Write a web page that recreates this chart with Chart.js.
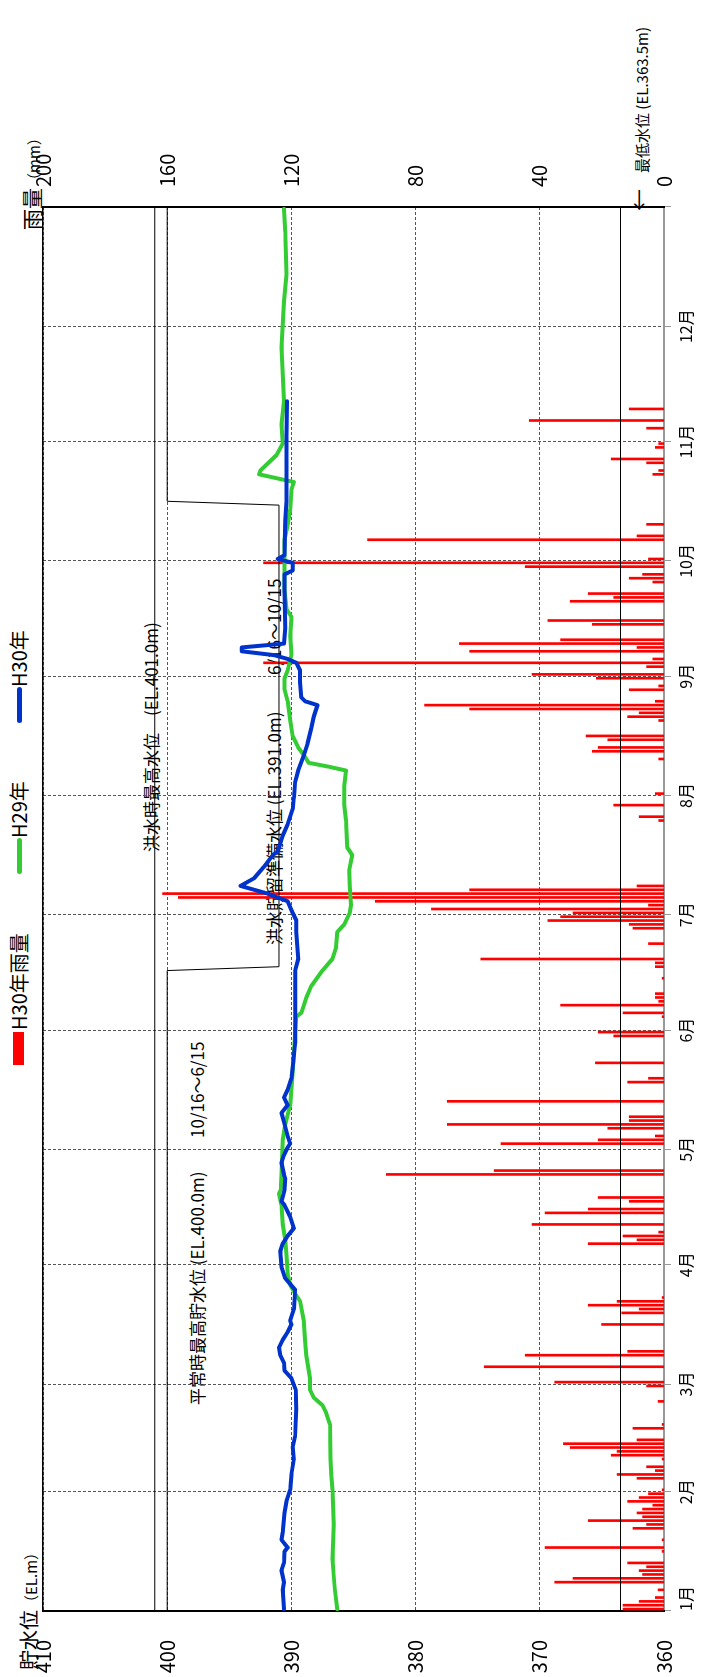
<!DOCTYPE html>
<html lang="ja">
<head>
<meta charset="utf-8">
<title>貯水位と雨量</title>
<script src="https://cdn.jsdelivr.net/npm/chart.js@4.4.1/dist/chart.umd.min.js"></script>
<style>
  html, body { margin: 0; padding: 0; width: 705px; height: 1677px; overflow: hidden; background: #fff; }
  /* the chart is laid out landscape and turned a quarter turn to the left */
  #page {
    position: absolute; left: 0; top: 0; width: 1677px; height: 705px;
    transform-origin: 0 0; transform: translate(0, 1677px) rotate(-90deg);
    font-family: "Noto Sans CJK JP", sans-serif; color: #000;
  }
  #page canvas { position: absolute; left: 0; top: 0; }
  .txt { position: absolute; white-space: nowrap; line-height: 1; }
  .mark { position: absolute; }
</style>
</head>
<body>
<div id="page">
  <div id="texts"></div>
  <canvas id="levelChart" width="1677" height="705"></canvas>
</div>
<script>
const monthLabels = ['1月', '2月', '3月', '4月', '5月', '6月', '7月', '8月', '9月', '10月', '11月', '12月'];
const monthStarts = [0, 31, 59, 90, 120, 151, 181, 212, 243, 273, 304, 334];
const yearDays = 365;

// H30 water level (EL.m)
const h30Dates = ['1/1','1/6','1/8','1/11','1/13','1/16','1/17','1/19','1/21','1/26',
  '1/29','2/1','2/5','2/9','2/12','2/15','2/22','2/27','3/2','3/4',
  '3/6','3/8','3/10','3/12','3/14','3/16','3/17','3/20','3/25','3/28',
  '3/31','4/4','4/6','4/8','4/10','4/13','4/16','4/17','4/20','4/23',
  '4/24','4/27','4/29','5/1','5/2','5/4','5/7','5/10','5/12','5/14',
  '5/16','5/19','5/22','5/28','6/7','6/16','6/19','6/26','6/29','7/1',
  '7/4','7/6','7/8','7/10','7/13','7/16','7/17','7/21','7/24','7/28',
  '7/31','8/4','8/7','8/11','8/14','8/18','8/21','8/24','8/25','8/26',
  '8/30','9/2','9/4','9/5','9/6','9/7','9/8','9/9','9/13','9/23',
  '9/27','9/28','9/30','10/1','10/2','10/11','10/16','11/2','11/11'];
const h30Levels = [390.6,390.7,390.6,390.8,390.6,390.55,390.3,390.8,390.7,390.55,
  390.4,390.1,390.0,389.8,389.9,389.7,389.6,389.65,390.0,390.55,
  390.6,390.9,391.0,390.7,390.3,390.0,390.1,389.8,389.7,390.5,
  390.8,390.9,390.7,390.3,389.8,390.1,390.55,390.8,390.55,390.5,
  390.6,390.8,390.6,390.3,390.1,390.3,390.55,390.8,390.3,390.6,
  390.3,390.0,389.9,389.7,389.7,389.7,389.45,389.6,389.6,389.9,
  390.3,391.9,394.1,393.0,392.2,391.5,391.1,390.7,390.3,389.9,
  389.8,389.7,389.45,389.0,388.7,388.4,388.2,387.9,388.9,389.2,
  389.3,389.3,389.6,390.3,391.4,394.0,394.0,390.6,390.5,390.55,
  390.55,389.9,389.9,391.1,390.55,390.5,390.4,390.4,390.35];

// H29 water level (EL.m)
const h29Dates = ['1/1','1/6','1/10','1/14','1/23','2/1','2/5','2/9','2/18','2/21',
  '2/23','2/25','2/27','3/2','3/8','3/12','3/17','3/22','3/24','3/26',
  '3/29','4/3','4/7','4/11','4/16','4/19','4/20','4/24','5/3','5/7',
  '5/12','5/21','5/31','6/4','6/5','6/9','6/12','6/16','6/19','6/22',
  '6/26','6/28','7/1','7/3','7/8','7/12','7/16','7/18','7/25','7/29',
  '8/3','8/7','8/8','8/9','8/11','8/13','8/16','8/20','8/25','8/28',
  '8/31','9/2','9/6','9/11','9/16','9/18','9/23','10/6','10/10','10/14',
  '10/19','10/21','10/23','10/24','10/28','10/31','11/5','11/11','11/25','12/7',
  '12/14','12/25','12/31'];
const h29Levels = [386.3,386.5,386.6,386.7,386.6,386.7,386.8,386.85,386.9,387.2,
  387.5,388.2,388.5,388.5,388.8,388.9,389.0,389.3,389.7,390.05,
  390.3,390.4,390.5,390.7,390.8,391.0,390.85,390.8,390.7,390.5,
  390.1,389.9,389.7,389.6,389.2,388.8,388.4,387.5,386.7,386.4,
  386.3,385.75,385.3,385.2,385.3,385.35,385.1,385.5,385.6,385.75,
  385.75,385.6,387.0,388.6,389.0,389.45,389.9,390.1,390.3,390.55,
  390.55,390.3,390.0,390.1,390.0,390.4,390.55,390.55,390.3,390.1,
  390.0,389.8,392.6,392.5,391.2,390.7,390.8,390.6,390.8,390.6,
  390.4,390.5,390.6];

// H30 daily rainfall (mm)
const rainDates = [
  '1/1','1/2','1/3','1/4','1/6','1/8','1/9','1/10','1/11','1/12','1/13','1/16','1/17','1/19','1/22','1/23','1/24','1/25','1/26','1/27','1/28','1/29','1/30','1/31',
  '2/1','2/4','2/5','2/6','2/7','2/9','2/10','2/11','2/12','2/13','2/14','2/17','2/18','2/24','2/28',
  '3/1','3/5','3/8','3/9','3/16','3/19','3/20','3/21','3/22','3/23',
  '4/6','4/7','4/8','4/9','4/11','4/14','4/15','4/17','4/18','4/24','4/25',
  '5/2','5/3','5/4','5/6','5/7','5/8','5/9','5/13','5/18','5/19','5/23','5/30','5/31',
  '6/4','6/5','6/7','6/8','6/9','6/10','6/14','6/17','6/18','6/19','6/23','6/27','6/28','6/29','6/30',
  '7/1','7/2','7/3','7/4','7/5','7/6','7/7','7/8','7/25','7/26','7/29',
  '8/1','8/10','8/12','8/13','8/15','8/16','8/20','8/21','8/22','8/23','8/24','8/25','8/28','8/29','8/31',
  '9/1','9/3','9/4','9/5','9/7','9/8','9/9','9/10','9/14','9/15','9/20','9/21','9/22','9/25','9/26','9/27','9/29','9/30',
  '10/1','10/6','10/7','10/10','10/23','10/24','10/26','10/27','10/30','10/31',
  '11/4','11/6','11/9'];
const rainMm = [
  13.2,13.2,8,2.8,1.9,35.2,29.3,6.9,8,5.6,11.7,0.6,38.3,0.6,10,5.6,24.4,6.9,8.7,6.9,3.6,11.7,8,5,
  0.6,8.7,15.1,2.8,5.6,0.6,17,15.1,30.2,32.4,8.7,10,0.6,1.9,5.6,
  35.2,57.9,44.7,11.7,20.1,13.6,8,24.4,15.1,0.6,
  24.4,8.7,13.2,1.7,42.5,38.3,24.4,11.2,21.2,89.4,54.7,
  52.5,21.2,2.8,18.1,69.8,11.2,11.2,69.8,11.7,5,22.1,16.2,21.2,
  0.6,13.2,33.3,1.7,2.8,2.8,0.6,2.8,2.8,59,5,10,11.2,37.4,33.3,
  29.3,74.9,5,93,156.4,161.5,62.6,8.7,1.7,8,16.2,
  2.8,1.7,23.1,21.2,18.1,25.1,1.7,11.7,8,62.6,77.1,2.8,11.2,1.7,21.8,
  42.5,5.6,129,3.6,62.6,8.7,65.9,33.3,23.1,37.4,30.2,16.2,24.4,3.6,11.2,6.9,44.7,129,
  5,95.5,8.7,5.6,3.6,1.7,5.6,17,2.8,1.7,
  5.6,43.4,11.2];

// operating levels: 400.0m from 10/16 to 6/15, 391.0m from 6/16 to 10/15
const ruleDays = [0, 166.5, 167.5, 287.5, 288.5, 365];
const ruleLevels = [400, 400, 391, 391, 400, 400];
const floodMaxLevel = 401.0;
const lowestLevel = 363.5;

function dayOf(md) {
  const [m, d] = md.split('/').map(Number);
  return monthStarts[m - 1] + d - 1;
}
function points(dates, values) {
  return dates.map((d, i) => ({ x: dayOf(d) + 0.5, y: values[i] }));
}
function flat(level) {
  return [{ x: 0, y: level }, { x: yearDays, y: level }];
}

Chart.defaults.font.family = '"Noto Sans CJK JP", sans-serif';
Chart.defaults.color = '#000';

const gridColor = '#555';
const thinLine = { borderColor: '#000', borderWidth: 1, pointRadius: 0, tension: 0, xAxisID: 'x', yAxisID: 'y', order: 3 };

const chart = new Chart(document.getElementById('levelChart'), {
  data: {
    datasets: [
      {
        type: 'line', label: 'H30年', data: points(h30Dates, h30Levels),
        borderColor: '#0033cc', borderWidth: 4, pointRadius: 0, tension: 0,
        borderJoinStyle: 'round', borderCapStyle: 'round', xAxisID: 'x', yAxisID: 'y', order: 1
      },
      {
        type: 'line', label: 'H29年', data: points(h29Dates, h29Levels),
        borderColor: '#33cc33', borderWidth: 4, pointRadius: 0, tension: 0,
        borderJoinStyle: 'round', borderCapStyle: 'round', xAxisID: 'x', yAxisID: 'y', order: 2
      },
      { type: 'line', data: ruleDays.map((d, i) => ({ x: d, y: ruleLevels[i] })), ...thinLine },
      { type: 'line', data: flat(floodMaxLevel), ...thinLine },
      { type: 'line', data: flat(lowestLevel), ...thinLine },
      {
        type: 'bar', label: 'H30年雨量', data: points(rainDates, rainMm),
        backgroundColor: '#ff0000', borderWidth: 0, barThickness: 2,
        xAxisID: 'x', yAxisID: 'y2', order: 4
      }
    ]
  },
  options: {
    responsive: false,
    animation: false,
    devicePixelRatio: 1,
    layout: { padding: 0 },
    plugins: { legend: { display: false }, tooltip: { enabled: false } },
    scales: {
      x: {
        type: 'linear', position: 'bottom', min: 0, max: yearDays, offset: false,
        afterBuildTicks: s => { s.ticks = monthStarts.concat(yearDays).map(v => ({ value: v })); },
        afterFit: s => { s.height = 32; },
        ticks: {
          autoSkip: false, maxRotation: 0, minRotation: 0, align: 'inner', padding: 5,
          font: { size: 16 },
          callback: v => { const i = monthStarts.indexOf(v); return i < 0 ? '' : monthLabels[i]; }
        },
        grid: { offset: false, color: gridColor, lineWidth: 1, tickLength: 7, tickColor: '#999' },
        border: { display: true, color: '#999', width: 2, dash: [3, 2] }
      },
      xTop: {
        type: 'linear', position: 'top', min: 0, max: yearDays, offset: false,
        afterFit: s => { s.height = 43; },
        ticks: { display: false },
        grid: { display: false, drawTicks: false },
        border: { display: true, color: '#000', width: 1.5 }
      },
      y: {
        type: 'linear', position: 'left', min: 360, max: 410,
        afterFit: s => { s.width = 66; },
        ticks: { stepSize: 10, padding: 29, font: { size: 20 } },
        grid: { color: gridColor, lineWidth: 1, drawTicks: false },
        border: { display: true, color: '#000', width: 2, dash: [3, 2] }
      },
      y2: {
        type: 'linear', position: 'right', min: 0, max: 200,
        afterFit: s => { s.width = 207; },
        ticks: { stepSize: 40, padding: 20, font: { size: 20 } },
        grid: { display: false, drawTicks: false },
        border: { display: true, color: '#000', width: 2 }
      }
    }
  }
});

// titles, notes and legend, placed in the unrotated chart frame
const texts = document.getElementById('texts');
function addText(html, left, mid, size) {
  const el = document.createElement('div');
  el.className = 'txt';
  el.style.left = left + 'px';
  el.style.top = (mid - size / 2) + 'px';
  el.style.fontSize = size + 'px';
  el.innerHTML = html;
  texts.appendChild(el);
}
function addMark(left, top, w, h, color, radius) {
  const el = document.createElement('div');
  el.className = 'mark';
  Object.assign(el.style, {
    left: left + 'px', top: top + 'px', width: w + 'px', height: h + 'px',
    background: color, borderRadius: radius + 'px'
  });
  texts.appendChild(el);
}

addText('貯水位<span style="font-size:15px">（EL.m）</span>', 7, 29, 20);
addText('雨量<span style="font-size:15px">（mm）</span>', 1447, 31, 21);
addText('平常時最高貯水位 (EL.400.0m)', 272, 196, 17);
addText('10/16～6/15', 539, 196, 17);
addText('洪水時最高水位　(EL.401.0m)', 825, 150, 17);
addText('洪水貯留準備水位 (EL.391.0m)', 732, 273, 17);
addText('6/16～10/15', 1002, 273, 17);
addText('最低水位 (EL.363.5m)', 1504, 641, 15);
addText('←', 1466, 637, 22);

const legendSlots = [
  { label: 'H30年雨量', left: 612, box: true },
  { label: 'H29年', left: 803, box: false },
  { label: 'H30年', left: 954, box: false }
];
legendSlots.forEach(slot => {
  const ds = chart.data.datasets.find(d => d.label === slot.label);
  if (slot.box) {
    addMark(slot.left, 13, 33, 11, ds.backgroundColor, 0);
    addText(slot.label, slot.left + 35, 19, 20);
  } else {
    addMark(slot.left, 17, 36, 5, ds.borderColor, 3);
    addText(slot.label, slot.left + 36, 19, 20);
  }
});
</script>
</body>
</html>
